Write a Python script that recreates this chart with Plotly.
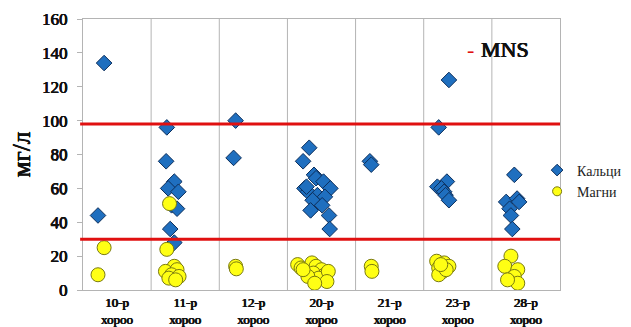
import plotly.graph_objects as go

categories = ["10-р", "11-р", "12-р", "20-р", "21-р", "23-р", "28-р"]
cat_suffix = "хороо"

# Кальци (calcium): district index, horizontal jitter within district, value (мг/л)
ca_district = [0, 0,
               1, 1, 1, 1, 1, 1, 1, 1, 1,
               2, 2,
               3, 3, 3, 3, 3, 3, 3, 3, 3, 3, 3, 3, 3, 3, 3, 3,
               4, 4,
               5, 5, 5, 5, 5, 5, 5, 5,
               6, 6, 6, 6, 6, 6, 6]
ca_jitter = [-0.19, -0.28,
             -0.27, -0.28, -0.16, -0.25, -0.10, -0.20, -0.12, -0.22, -0.16,
             -0.26, -0.29,
             -0.18, -0.27, -0.11, -0.08, 0.03, -0.25, 0.13, -0.20, -0.06, 0.05, -0.13, 0.01, -0.16, 0.11, 0.12, -0.22,
             -0.29, -0.27,
             -0.13, -0.28, -0.16, -0.30, -0.24, -0.20, -0.18, -0.13,
             -0.17, -0.29, -0.13, -0.24, -0.22, -0.20, -0.10]
ca_values = [134, 44,
             96, 76, 64, 60, 58, 50, 48, 36, 28,
             100, 78,
             84, 76, 68, 66, 64, 60, 60, 58, 56, 55, 53, 50, 47, 44, 36, 61,
             76, 74,
             124, 96, 64, 61, 60, 58, 56, 53,
             68, 52, 54, 48, 44, 36, 52]

# Магни (magnesium)
mg_district = [0, 0,
               1, 1, 1, 1, 1, 1, 1, 1, 1,
               2, 2,
               3, 3, 3, 3, 3, 3, 3, 3, 3, 3, 3, 3, 3, 3,
               4, 4,
               5, 5, 5, 5, 5, 5, 5, 5,
               6, 6, 6, 6, 6, 6]
mg_jitter = [-0.19, -0.28,
             -0.23, -0.27, -0.16, -0.29, -0.12, -0.20, -0.09, -0.24, -0.14,
             -0.26, -0.25,
             -0.35, -0.30, -0.22, -0.14, -0.08, 0.00, -0.12, 0.05, -0.04, 0.10, -0.20, 0.08, -0.10, -0.27,
             -0.27, -0.26,
             -0.31, -0.20, -0.13, -0.28, -0.22, -0.28, -0.17, -0.25,
             -0.22, -0.31, -0.12, -0.17, -0.12, -0.27]
mg_values = [25, 9,
             51, 24, 14, 11, 12, 9, 8, 7, 6,
             14, 12.5,
             15, 13, 11, 16, 14, 12, 10, 9, 7, 11, 8, 5, 4, 12,
             14, 11,
             17, 16, 14, 13, 11, 9, 12, 15,
             20, 14, 12, 8, 4, 6]

mns_levels = [98, 30]
y_ticks = [0, 20, 40, 60, 80, 100, 120, 140, 160]

SERIF = "Liberation Serif"
INK = "#111111"
HEAVY = "0.5px 0 0 #111111, -0.4px 0 0 #111111, 0 0.3px 0 #111111"
BLUE = "#1f6fbf"
BLUE_EDGE = "#0d2f5c"
YELLOW = "#ffff14"
YELLOW_EDGE = "#7a7a10"

ca_x = [d + j for d, j in zip(ca_district, ca_jitter)]
mg_x = [d + j for d, j in zip(mg_district, mg_jitter)]

fig = go.Figure()

# legend entries with small symbols
fig.add_trace(go.Scatter(
    x=[None], y=[None], mode="markers", name="Кальци",
    marker=dict(symbol="diamond", size=9, color=BLUE, line=dict(color=BLUE_EDGE, width=1)),
))
fig.add_trace(go.Scatter(
    x=[None], y=[None], mode="markers", name="Магни",
    marker=dict(symbol="circle", size=9, color=YELLOW, line=dict(color=YELLOW_EDGE, width=1)),
))
fig.add_trace(go.Scatter(
    x=ca_x, y=ca_values, mode="markers", name="Кальци", showlegend=False,
    marker=dict(symbol="diamond", size=12, color=BLUE,
                line=dict(color=BLUE_EDGE, width=1)),
))
fig.add_trace(go.Scatter(
    x=mg_x, y=mg_values, mode="markers", name="Магни", showlegend=False,
    marker=dict(symbol="circle", size=14, color=YELLOW,
                line=dict(color=YELLOW_EDGE, width=1)),
))

# MNS reference lines
for lvl in mns_levels:
    fig.add_shape(type="line", xref="paper", yref="y", x0=-0.006, x1=1, y0=lvl, y1=lvl,
                  line=dict(color="#e01010", width=3), layer="above")

# vertical dividers between districts
for i in range(len(categories) - 1):
    fig.add_shape(type="line", xref="x", yref="paper", x0=i + 0.5, x1=i + 0.5, y0=0, y1=1,
                  line=dict(color="#b4b4b4", width=1), layer="below")

fig.add_annotation(
    xref="paper", yref="y", x=0.80, y=142, xanchor="left", yanchor="middle",
    text="<span style='color:#e01010'>-</span>", showarrow=False,
    font=dict(family=SERIF, size=22, color="#e01010"),
)
fig.add_annotation(
    xref="paper", yref="y", x=0.83, y=142, xanchor="left", yanchor="middle",
    text="MNS", showarrow=False,
    font=dict(family=SERIF, size=22, color=INK, shadow=HEAVY),
)

# the page body adds an 8px offset; figure size and margins compensate for it
fig.update_layout(
    width=623, height=319,
    margin=dict(l=75, r=71, t=11, b=37, autoexpand=False),
    paper_bgcolor="white", plot_bgcolor="white",
    font=dict(family=SERIF),
    showlegend=True,
    legend=dict(x=0.952, y=0.5, xanchor="left", yanchor="top",
                font=dict(family=SERIF, size=14, color="#222222"),
                bgcolor="rgba(0,0,0,0)", tracegroupgap=0, itemwidth=30),
    xaxis=dict(
        range=[-0.5, len(categories) - 0.5],
        tickmode="array", tickvals=list(range(len(categories))),
        ticktext=[f"{c}<br>{cat_suffix}" for c in categories],
        tickfont=dict(family=SERIF, size=13, color=INK, shadow=HEAVY),
        showgrid=False, zeroline=False, ticks="",
        showline=True, linecolor="#b4b4b4", linewidth=1, mirror=True,
        automargin=False, ticklabelstandoff=0,
    ),
    yaxis=dict(
        range=[0, 160], tickmode="array", tickvals=y_ticks,
        tickfont=dict(family=SERIF, size=17, color=INK, shadow=HEAVY),
        showgrid=False, zeroline=False,
        ticks="outside", ticklen=5, tickcolor="#b4b4b4",
        showline=True, linecolor="#b4b4b4", linewidth=1, mirror=True,
        automargin=False, ticklabelstandoff=6,
        title=dict(text="мг/л", font=dict(family=SERIF, size=25, color=INK, shadow=HEAVY),
                   standoff=6),
    ),
)

fig.write_html("out.html")
